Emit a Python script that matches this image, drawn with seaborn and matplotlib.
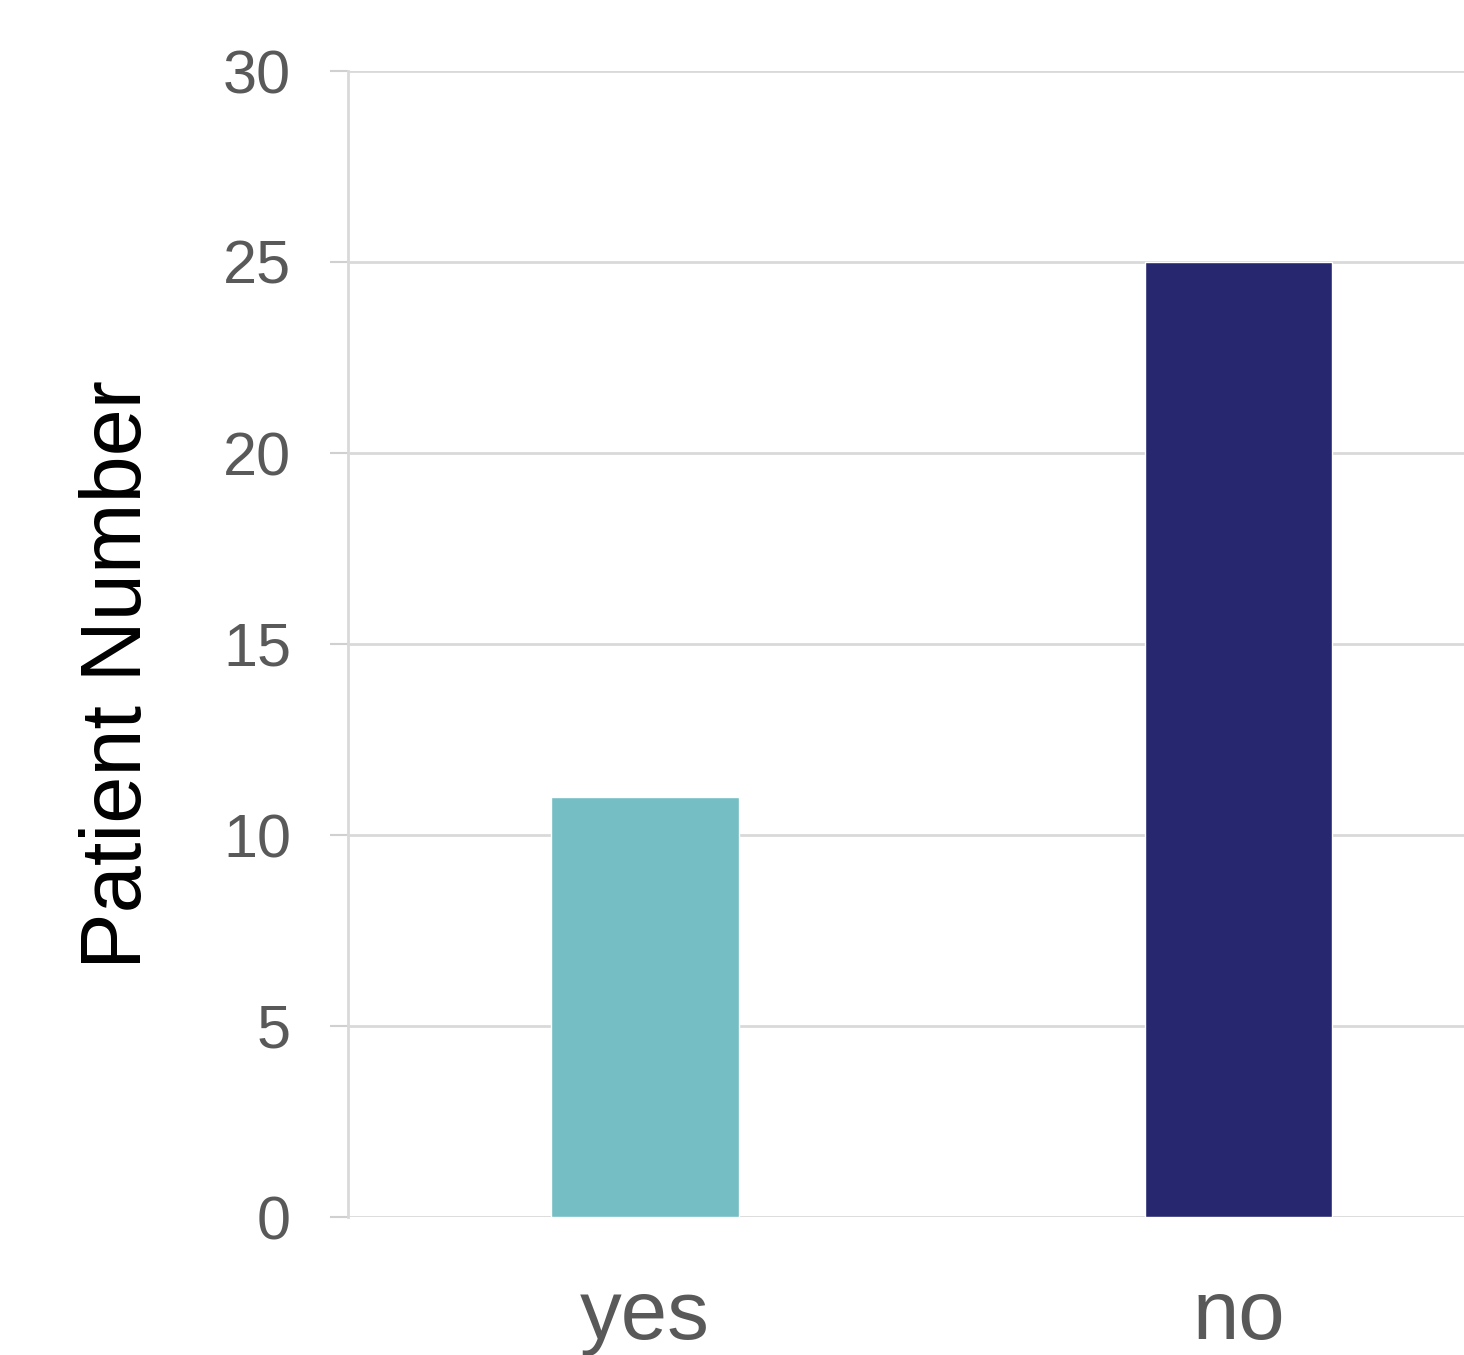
import matplotlib
matplotlib.use("Agg")
import matplotlib.pyplot as plt
import seaborn as sns
import pandas as pd

categories = ["yes", "no"]
values = [11, 25]
colors = ["#74BEC4", "#27276F"]
y_ticks = [0, 5, 10, 15, 20, 25, 30]

sns.set_theme(style="white")
plt.rcParams['font.family'] = ['Liberation Sans', 'DejaVu Sans']

df = pd.DataFrame({"cat": categories, "val": values})

fig = plt.figure(figsize=(14.64, 13.55), dpi=100)
ax = fig.add_axes([348/1464, 138/1355, 1116/1464, (1217-71)/1355])

sns.barplot(data=df, x="cat", y="val", hue="cat", palette=colors, order=categories,
            hue_order=categories, width=0.315, legend=False, ax=ax, saturation=1, zorder=3)

ax.set_xlim(-0.5, 1.379)
ax.set_ylim(0, 30)
ax.set_yticks(y_ticks)
ax.set_yticklabels([str(t) for t in y_ticks])
ax.yaxis.grid(True, color="#D9D9D9", linewidth=2, zorder=0)
ax.set_axisbelow(True)

for s in ["top", "right", "bottom"]:
    ax.spines[s].set_visible(False)
ax.spines["left"].set_color("#D9D9D9")
ax.spines["left"].set_linewidth(2)

ax.tick_params(axis="y", which="both", left=True, length=13, width=1.5, color="#D0D0D0",
               labelsize=44, labelcolor="#595959", pad=28)
ax.tick_params(axis="x", bottom=False, labelsize=60, labelcolor="#595959", pad=38)

ax.set_xlabel("")
ax.set_ylabel("Patient Number", fontsize=61, color="black", labelpad=46)
ax.yaxis.label.set_y(0.473)

fig.savefig("out.png", dpi=100)
